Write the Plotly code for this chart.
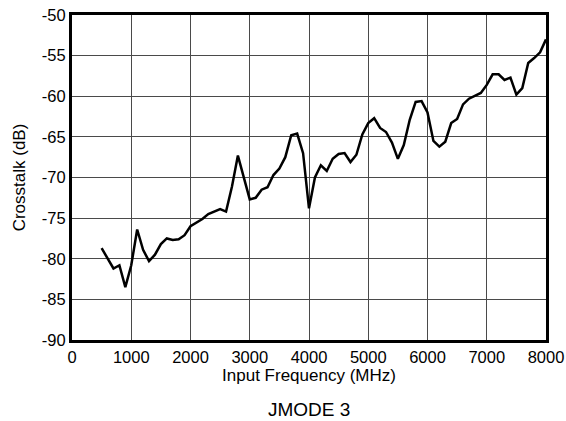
import plotly.graph_objects as go

freq_mhz = list(range(500, 8001, 100))
crosstalk_db = [
    -78.7, -80.0, -81.2, -80.8, -83.5, -80.8, -76.4, -78.9, -80.3, -79.5,
    -78.2, -77.5, -77.7, -77.6, -77.1, -76.0, -75.6, -75.1, -74.5, -74.2,
    -73.9, -74.2, -71.1, -67.3, -69.9, -72.7, -72.5, -71.5, -71.2, -69.7,
    -68.9, -67.5, -64.8, -64.6, -67.0, -73.8, -70.0, -68.5, -69.2, -67.7,
    -67.1, -67.0, -68.1, -67.2, -64.7, -63.3, -62.7, -63.9, -64.4, -65.7,
    -67.7, -66.0, -62.9, -60.7, -60.6, -62.0, -65.5, -66.2, -65.6, -63.3,
    -62.8, -61.0, -60.3, -59.9, -59.6, -58.6, -57.3, -57.3, -58.0, -57.7,
    -59.8, -59.0, -55.9, -55.3, -54.6, -53.0,
]
x_ticks = [0, 1000, 2000, 3000, 4000, 5000, 6000, 7000, 8000]
y_ticks = [-90, -85, -80, -75, -70, -65, -60, -55, -50]
y_tick_text = ["-90", "-85", "-80", "-75", "-70", "-65", "-60", "-55", "-50"]

fig = go.Figure(go.Scatter(
    x=freq_mhz, y=crosstalk_db, mode="lines",
    line=dict(color="black", width=2.5), showlegend=False,
))

axis_common = dict(
    showline=True, linecolor="black", linewidth=3, mirror=True,
    showgrid=True, gridcolor="#4a4a4a", gridwidth=1,
    zeroline=False, ticks="", tickfont=dict(size=16.5, color="black"),
    automargin=False,
)
fig.update_xaxes(range=[0, 8000], tickvals=x_ticks,
                 title=dict(text="Input Frequency (MHz)", font=dict(size=17, color="black"), standoff=3),
                 **axis_common)
fig.update_yaxes(range=[-90, -50], tickvals=y_ticks, ticktext=y_tick_text,
                 title=dict(text="Crosstalk (dB)", font=dict(size=17, color="black"), standoff=12),
                 **axis_common)

fig.add_annotation(text="JMODE 3", xref="paper", yref="paper", x=0.5, y=-0.215,
                   showarrow=False, font=dict(size=19, color="black"), xanchor="center", yanchor="middle")

fig.update_layout(
    width=566, height=421,
    margin=dict(l=72, r=20, t=15, b=81),
    paper_bgcolor="white", plot_bgcolor="white",
    font=dict(family="Liberation Sans, Arial, sans-serif", color="black"),
)
fig.write_html("out.html", config={"displayModeBar": False},
               post_script="document.body.style.margin='0';document.body.style.overflow='hidden';")
